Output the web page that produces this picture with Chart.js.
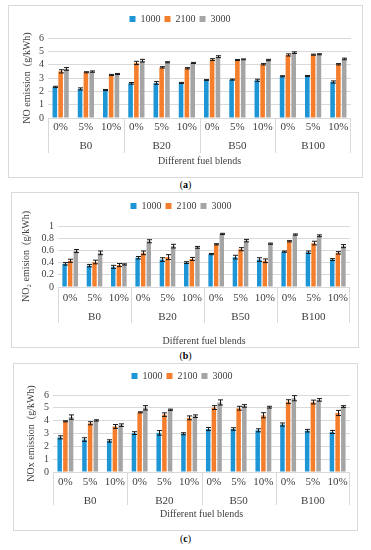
<!DOCTYPE html>
<html>
<head>
<meta charset="utf-8">
<script src="https://cdn.jsdelivr.net/npm/chart.js@4.4.1/dist/chart.umd.min.js"></script>
<style>
  body { margin: 0; background: #fff; width: 371px; height: 550px; position: relative; overflow: hidden;
         font-family: "Liberation Serif", "Times New Roman", serif; }
  .panel { position: absolute; border: 1px solid #d9d9d9; box-sizing: border-box; background: #fff; }
  .panel canvas { position: absolute; left: 0; top: 0; }
  .cap { position: absolute; left: 0; width: 371px; text-align: center; font-size: 10px; line-height: 12px; color: #000; }
</style>
</head>
<body>
<div class="panel" style="left:8px;top:5px;width:355px;height:173px"><canvas id="chartA" width="353" height="171"></canvas></div>
<div class="cap" style="top:179px">(<b>a</b>)</div>
<div class="panel" style="left:11px;top:192px;width:348px;height:156px"><canvas id="chartB" width="346" height="154"></canvas></div>
<div class="cap" style="top:350px">(<b>b</b>)</div>
<div class="panel" style="left:13px;top:363px;width:345px;height:168px"><canvas id="chartC" width="343" height="166"></canvas></div>
<div class="cap" style="top:533px">(<b>c</b>)</div>

<script>
// categories
const groups = ['B0', 'B20', 'B50', 'B100'];
const additives = ['0%', '5%', '10%'];
const xLabels = groups.flatMap(() => additives);
const speeds = ['1000', '2100', '3000'];

// (a) NO emission (g/kWh)
const no1000 = [2.33, 2.18, 2.10, 2.60, 2.63, 2.63, 2.85, 2.88, 2.83, 3.13, 3.15, 2.70];
const no2100 = [3.50, 3.43, 3.23, 4.13, 3.80, 3.73, 4.38, 4.35, 4.03, 4.73, 4.75, 4.03];
const no3000 = [3.68, 3.48, 3.30, 4.30, 4.18, 4.13, 4.60, 4.40, 4.35, 4.90, 4.78, 4.43];
const noErr1000 = [0.05, 0.08, 0.04, 0.06, 0.10, 0.04, 0.03, 0.04, 0.08, 0.04, 0.04, 0.08];
const noErr2100 = [0.12, 0.04, 0.04, 0.12, 0.05, 0.05, 0.07, 0.04, 0.05, 0.08, 0.04, 0.05];
const noErr3000 = [0.10, 0.05, 0.04, 0.10, 0.04, 0.04, 0.07, 0.03, 0.05, 0.06, 0.04, 0.06];

// (b) NO2 emission (g/kWh)
const no2_1000 = [0.38, 0.35, 0.33, 0.48, 0.45, 0.40, 0.54, 0.49, 0.45, 0.58, 0.57, 0.45];
const no2_2100 = [0.43, 0.41, 0.36, 0.56, 0.49, 0.46, 0.70, 0.62, 0.43, 0.75, 0.72, 0.56];
const no2_3000 = [0.59, 0.56, 0.37, 0.75, 0.67, 0.65, 0.87, 0.76, 0.71, 0.86, 0.84, 0.67];
const no2Err1000 = [0.02, 0.02, 0.025, 0.02, 0.03, 0.015, 0.01, 0.03, 0.03, 0.01, 0.02, 0.015];
const no2Err2100 = [0.025, 0.03, 0.025, 0.03, 0.04, 0.025, 0.01, 0.025, 0.03, 0.01, 0.03, 0.02];
const no2Err3000 = [0.025, 0.03, 0.01, 0.025, 0.03, 0.015, 0.01, 0.02, 0.01, 0.01, 0.015, 0.025];

// (c) NOx emission (g/kWh)
const nox1000 = [2.70, 2.53, 2.42, 3.03, 3.05, 2.98, 3.35, 3.35, 3.25, 3.70, 3.22, 3.12];
const nox2100 = [3.95, 3.80, 3.55, 4.65, 4.47, 4.22, 5.02, 4.97, 4.42, 5.48, 5.45, 4.60];
const nox3000 = [4.28, 4.02, 3.65, 5.00, 4.85, 4.35, 5.42, 5.15, 5.05, 5.75, 5.62, 5.10];
const noxErr1000 = [0.12, 0.14, 0.09, 0.11, 0.18, 0.08, 0.12, 0.10, 0.12, 0.12, 0.10, 0.12];
const noxErr2100 = [0.04, 0.12, 0.15, 0.04, 0.14, 0.15, 0.15, 0.15, 0.20, 0.15, 0.15, 0.20];
const noxErr3000 = [0.17, 0.05, 0.10, 0.17, 0.05, 0.10, 0.20, 0.10, 0.07, 0.20, 0.10, 0.07];

const colors = ['#1e96d6', '#f47e2c', '#a5a5a5'];
const textColor = '#404040';
const fontFamily = '"Liberation Serif", "Times New Roman", serif';

Chart.defaults.font.family = fontFamily;
Chart.defaults.font.size = 10;
Chart.defaults.color = textColor;

// draws the +/- bars on top of each bar
const errorBars = {
  id: 'errorBars',
  afterDatasetsDraw(chart) {
    const y = chart.scales.y;
    const ctx = chart.ctx;
    ctx.save();
    ctx.strokeStyle = '#1a1a1a';
    ctx.lineWidth = 1;
    chart.data.datasets.forEach((ds, d) => {
      chart.getDatasetMeta(d).data.forEach((bar, i) => {
        const v = ds.data[i], e = ds.errors[i];
        const top = y.getPixelForValue(v + e);
        const bot = y.getPixelForValue(v - e);
        const x = Math.round(bar.x) + 0.5;
        ctx.beginPath();
        ctx.moveTo(x, top); ctx.lineTo(x, bot);
        ctx.moveTo(x - 2.5, top); ctx.lineTo(x + 2.5, top);
        ctx.moveTo(x - 2.5, bot); ctx.lineTo(x + 2.5, bot);
        ctx.stroke();
      });
    });
    ctx.restore();
  }
};

// second row of the category axis: fuel blend groups with dividers
const groupAxis = {
  id: 'groupAxis',
  afterDraw(chart, args, opts) {
    const x = chart.scales.x;
    const ctx = chart.ctx;
    const b = chart.chartArea.bottom;
    const half = (x.getPixelForValue(1) - x.getPixelForValue(0)) / 2;
    ctx.save();
    ctx.strokeStyle = '#d9d9d9';
    ctx.lineWidth = 1;
    ctx.fillStyle = textColor;
    ctx.font = '11px ' + fontFamily;
    ctx.textAlign = 'center';
    ctx.textBaseline = 'middle';
    groups.forEach((g, i) => {
      const left = x.getPixelForValue(i * 3) - half;
      const right = x.getPixelForValue(i * 3 + 2) + half;
      ctx.beginPath();
      ctx.moveTo(Math.round(left) + 0.5, b);
      ctx.lineTo(Math.round(left) + 0.5, b + opts.lineLen);
      if (i === groups.length - 1) {
        ctx.moveTo(Math.round(right) - 0.5, b);
        ctx.lineTo(Math.round(right) - 0.5, b + opts.lineLen);
      }
      ctx.stroke();
      ctx.fillText(g, (left + right) / 2, b + opts.labelY);
    });
    ctx.restore();
  }
};

function buildChart(id, series, errors, yMax, yStep, yTitle, lay) {
  new Chart(document.getElementById(id), {
    type: 'bar',
    data: {
      labels: xLabels,
      datasets: speeds.map((s, k) => ({
        label: s,
        data: series[k],
        errors: errors[k],
        backgroundColor: colors[k],
        borderWidth: 0,
        categoryPercentage: 0.69,
        barPercentage: 0.79
      }))
    },
    options: {
      responsive: false,
      animation: false,
      layout: { padding: { top: lay.top, right: lay.right, left: 0, bottom: 0 } },
      plugins: {
        legend: {
          position: 'top',
          labels: { boxWidth: 6, boxHeight: 6, padding: 4, color: textColor, font: { size: 10 } }
        },
        subtitle: { display: true, text: '', weight: 500, padding: 0, font: { size: lay.gap, lineHeight: 1 } },
        tooltip: { enabled: false },
        groupAxis: { lineLen: lay.lineLen, labelY: lay.groupY }
      },
      scales: {
        x: {
          grid: { display: false, drawTicks: false, tickLength: 0 },
          border: { display: false },
          ticks: { autoSkip: false, maxRotation: 0, padding: lay.tickPad, color: textColor, font: { size: 11 } },
          title: { display: true, text: 'Different fuel blends', color: textColor,
                   font: { size: 10 }, padding: { top: 0, bottom: lay.titleBottom } },
          afterFit(scale) { scale.height = lay.xHeight; }
        },
        y: {
          min: 0,
          max: yMax,
          ticks: { stepSize: yStep, autoSkip: false, padding: 4, color: textColor,
                   callback: (v) => String(+v.toFixed(2)) },
          grid: { color: '#d9d9d9', drawTicks: false },
          border: { display: false },
          title: { display: true, text: yTitle, color: textColor,
                   font: { size: 10 }, padding: { top: lay.yTitlePad, bottom: 0 } },
          afterFit(scale) { scale.width = lay.yWidth; }
        }
      }
    },
    plugins: [errorBars, groupAxis]
  });
}

buildChart('chartA', [no1000, no2100, no3000], [noErr1000, noErr2100, noErr3000], 6, 1,
  'NO emission  (g/kWh)',
  { top: 4, right: 11, gap: 4, xHeight: 59, yWidth: 39, tickPad: 3, groupY: 28, lineLen: 35, titleBottom: 10, yTitlePad: 12 });

buildChart('chartB', [no2_1000, no2_2100, no2_3000], [no2Err1000, no2Err2100, no2Err3000], 1, 0.2,
  'NO\u2082 emision  (g/kWh)',
  { top: 4, right: 8, gap: 5, xHeight: 60, yWidth: 46, tickPad: 5, groupY: 30, lineLen: 36, titleBottom: 0, yTitlePad: 8 });

buildChart('chartC', [nox1000, nox2100, nox3000], [noxErr1000, noxErr2100, noxErr3000], 6, 1,
  'NOx emission  (g/kWh)',
  { top: 3, right: 7, gap: 4, xHeight: 58, yWidth: 39, tickPad: 4, groupY: 29, lineLen: 33, titleBottom: 10, yTitlePad: 11 });
</script>
</body>
</html>
